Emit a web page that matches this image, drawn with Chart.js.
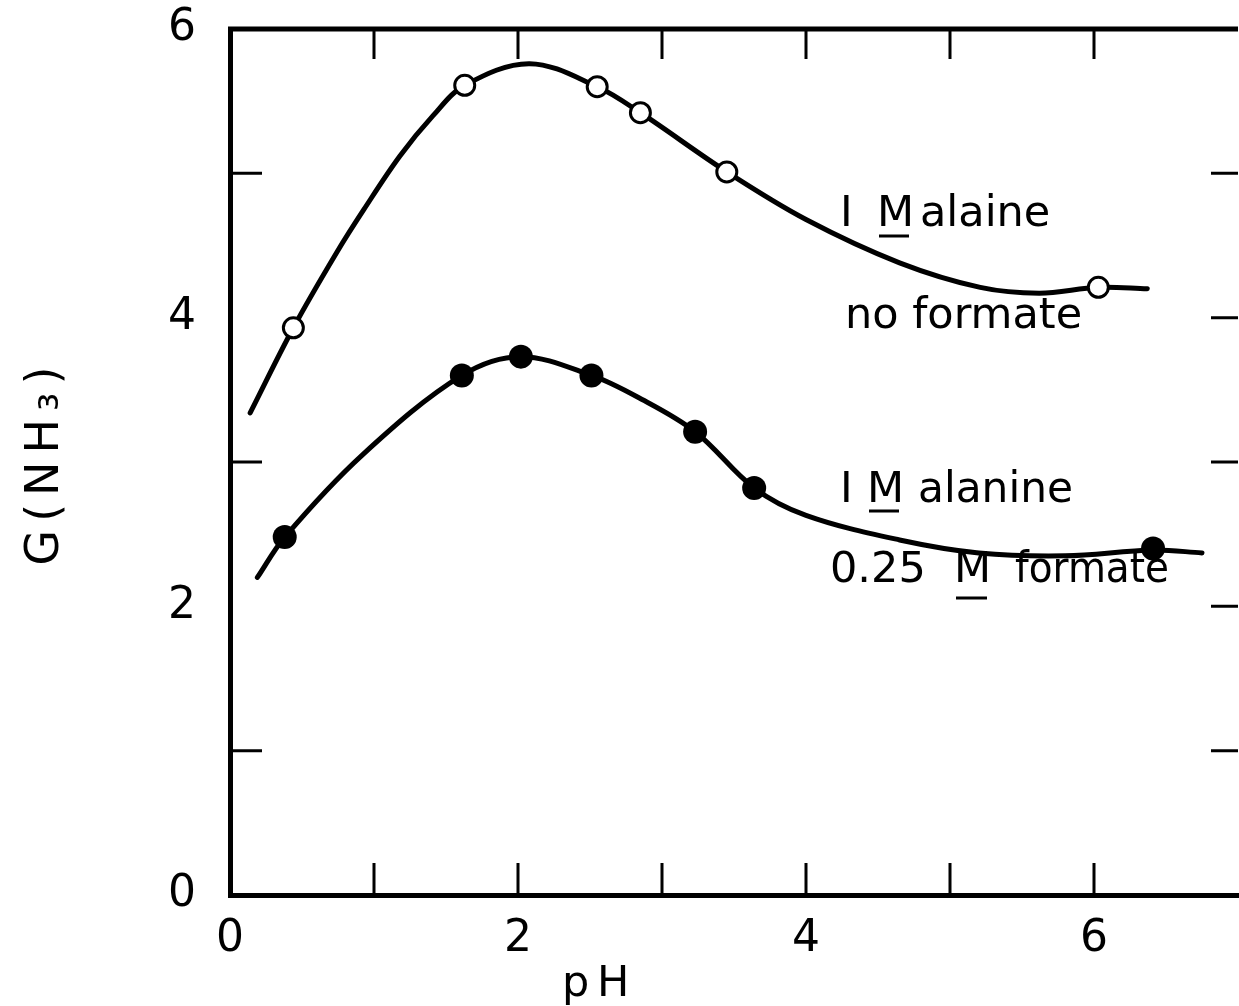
<!DOCTYPE html>
<html>
<head>
<meta charset="utf-8">
<script src="https://cdn.jsdelivr.net/npm/chart.js@4"></script>
<style>
  html, body { margin: 0; background: #fff; overflow: hidden; }
  #wrap { width: 1239px; height: 1006px; }
</style>
</head>
<body>
<div id="wrap"><canvas id="phChart"></canvas></div>
<script>
// open circles: 1 M alaine, no formate
const phOpen = [0.44, 1.63, 2.55, 2.85, 3.45, 6.03];
const gOpen = [3.93, 5.61, 5.60, 5.42, 5.01, 4.21];
// filled circles: 1 M alanine, 0.25 M formate
const phFilled = [0.38, 1.61, 2.02, 2.51, 3.23, 3.64, 6.41];
const gFilled = [2.48, 3.60, 3.73, 3.60, 3.21, 2.82, 2.40];
// drawn curves
const phCurveA = [0.14, 0.44, 0.74, 0.93, 1.18, 1.41, 1.63, 2.08, 2.55, 2.85, 3.45, 4.0, 4.65, 5.21, 5.62, 6.03, 6.37];
const gCurveA = [3.34, 3.93, 4.45, 4.75, 5.12, 5.40, 5.61, 5.76, 5.60, 5.42, 5.01, 4.68, 4.38, 4.21, 4.17, 4.21, 4.20];
const phCurveB = [0.19, 0.38, 0.92, 1.61, 2.02, 2.51, 2.83, 3.23, 3.64, 4.0, 4.65, 5.2, 5.8, 6.41, 6.75];
const gCurveB = [2.20, 2.48, 3.05, 3.60, 3.73, 3.60, 3.45, 3.21, 2.82, 2.63, 2.46, 2.37, 2.35, 2.39, 2.37];
// tick marks
const bottomTicks = [1, 2, 3, 4, 5, 6];
const topTicks = [1, 2, 3, 4, 5, 6];
const leftTicks = [1, 3, 5];
const rightTicks = [1, 2, 3, 4, 5];

const FONT = '"DejaVu Sans", sans-serif';
const toXY = (xs, ys) => xs.map((x, i) => ({ x: x, y: ys[i] }));

function noPad(scale) {
  scale.paddingLeft = 0;
  scale.paddingRight = 0;
  scale.paddingTop = 0;
  scale.paddingBottom = 0;
}

const frame = {
  id: 'frame',
  afterDraw(chart) {
    const ctx = chart.ctx;
    const xs = chart.scales.x, ys = chart.scales.y;
    const { left, right, top, bottom } = chart.chartArea;
    ctx.save();
    ctx.strokeStyle = '#000';
    ctx.lineCap = 'butt';
    // top border
    ctx.lineWidth = 5;
    ctx.beginPath();
    ctx.moveTo(left - 2, top);
    ctx.lineTo(right, top);
    ctx.stroke();
    // inward ticks
    ctx.lineWidth = 3;
    ctx.beginPath();
    bottomTicks.forEach(v => { const p = xs.getPixelForValue(v); ctx.moveTo(p, bottom); ctx.lineTo(p, bottom - 32); });
    topTicks.forEach(v => { const p = xs.getPixelForValue(v); ctx.moveTo(p, top); ctx.lineTo(p, top + 30); });
    leftTicks.forEach(v => { const p = ys.getPixelForValue(v); ctx.moveTo(left, p); ctx.lineTo(left + 32, p); });
    rightTicks.forEach(v => { const p = ys.getPixelForValue(v); ctx.moveTo(right - 27, p); ctx.lineTo(right, p); });
    ctx.stroke();

    // labels
    ctx.fillStyle = '#000';
    ctx.font = '43px ' + FONT;
    ctx.textBaseline = 'alphabetic';
    ctx.textAlign = 'left';
    const txt = (s, x, y, w) => (w ? ctx.fillText(s, x, y, w) : ctx.fillText(s, x, y));
    const under = (x1, x2, y) => { ctx.fillRect(x1, y - 1.5, x2 - x1, 3); };
    txt('I', 840, 226); txt('M', 877, 226); under(879, 909, 236); txt('alaine', 920, 226);
    txt('no formate', 845, 328, 242);
    txt('I', 840, 502); txt('M', 867, 502); under(869, 899, 511); txt('alanine', 918, 502, 155);
    txt('0.25', 830, 582); txt('M', 954, 582); under(956, 987, 598); txt('formate', 1015, 582, 154);
    // x axis title
    txt('p', 562, 996); txt('H', 597, 996);

    // y axis title, spaced out like the original lettering
    ctx.translate(58, (top + bottom) / 2);
    ctx.rotate(-Math.PI / 2);
    ctx.font = '46px ' + FONT;
    ctx.letterSpacing = '8px';
    ctx.textAlign = 'center';
    txt('G(NH₃)', 0, 0);
    ctx.restore();
  }
};

new Chart(document.getElementById('phChart'), {
  type: 'scatter',
  data: {
    datasets: [
      {
        label: '1 M alaine, no formate',
        data: toXY(phOpen, gOpen),
        showLine: false,
        pointRadius: 10,
        pointBorderWidth: 3,
        pointBackgroundColor: '#fff',
        pointBorderColor: '#000',
        clip: false,
      },
      {
        label: '1 M alanine, 0.25 M formate',
        data: toXY(phFilled, gFilled),
        showLine: false,
        pointRadius: 12,
        pointBorderWidth: 0,
        pointBackgroundColor: '#000',
        pointBorderColor: '#000',
        clip: false,
      },
      {
        label: 'curve A',
        data: toXY(phCurveA, gCurveA),
        showLine: true,
        borderColor: '#000',
        borderWidth: 5,
        pointRadius: 0,
        tension: 0.35,
        borderCapStyle: 'round',
      },
      {
        label: 'curve B',
        data: toXY(phCurveB, gCurveB),
        showLine: true,
        borderColor: '#000',
        borderWidth: 5,
        pointRadius: 0,
        tension: 0.35,
        borderCapStyle: 'round',
      },
    ],
  },
  options: {
    responsive: true,
    maintainAspectRatio: false,
    animation: false,
    layout: { autoPadding: false, padding: { top: 29, right: 1, left: 0, bottom: 0 } },
    plugins: {
      legend: { display: false },
      tooltip: { enabled: false },
    },
    scales: {
      x: {
        type: 'linear',
        min: 0,
        max: 7,
        afterFit(scale) {
          scale.height = 111;
          noPad(scale);
        },
        grid: { display: true, drawOnChartArea: false, drawTicks: false },
        border: { display: true, width: 5, color: '#000' },
        ticks: {
          stepSize: 1,
          autoSkip: false,
          maxRotation: 0,
          padding: 18,
          color: '#000',
          font: { family: FONT, size: 44 },
          callback: v => (v % 2 === 0 ? String(v) : ''),
        },
      },
      y: {
        min: 0,
        max: 6,
        afterFit(scale) {
          scale.width = 230;
          noPad(scale);
        },
        grid: { display: true, drawOnChartArea: false, drawTicks: false },
        border: { display: true, width: 5, color: '#000' },
        ticks: {
          stepSize: 1,
          autoSkip: false,
          padding: 34,
          color: '#000',
          font: { family: FONT, size: 44 },
          callback: v => (v % 2 === 0 ? String(v) : ''),
        },
      },
    },
  },
  plugins: [frame],
});
</script>
</body>
</html>
